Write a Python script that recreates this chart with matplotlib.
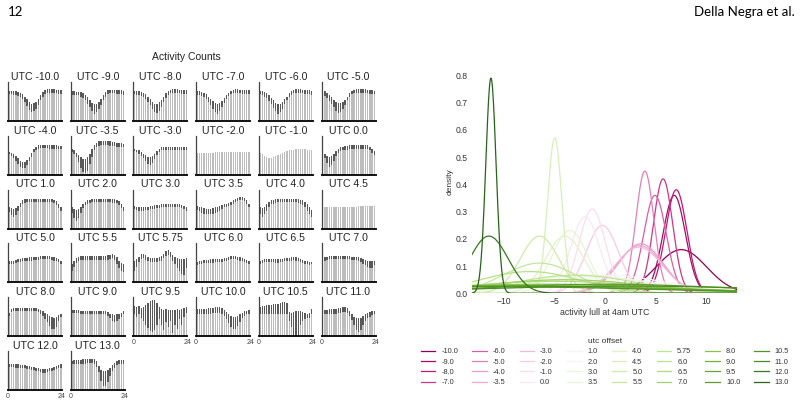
import numpy as np
import matplotlib
matplotlib.use("Agg")
import matplotlib.pyplot as plt

plt.rcParams['font.family'] = ['Liberation Sans', 'DejaVu Sans']

# utc offsets (panel order and legend order)
offsets = [-10.0, -9.0, -8.0, -7.0, -6.0, -5.0, -4.0, -3.5, -3.0, -2.0, -1.0, 0.0,
           1.0, 2.0, 3.0, 3.5, 4.0, 4.5, 5.0, 5.5, 5.75, 6.0, 6.5, 7.0,
           8.0, 9.0, 9.5, 10.0, 10.5, 11.0, 12.0, 13.0]
offset_labels = ['5.75' if o == 5.75 else f'{o:.1f}' for o in offsets]

# hourly activity, top of bar and bottom of dark range (share of panel height, %)
act_hi = [
    [76,76,75,75,74,72,68,62,55,48,44,45,48,55,65,74,78,80,80,80,80,79,79,78],
    [75,75,74,74,73,70,66,60,52,46,42,44,48,56,66,74,78,79,79,79,79,78,78,77],
    [76,75,75,74,72,68,62,55,48,44,44,48,54,62,70,76,79,80,80,80,79,79,78,78],
    [75,75,74,72,68,62,56,50,45,43,45,50,58,66,72,77,79,80,80,79,79,79,78,78],
    [76,75,73,70,65,58,52,46,43,44,48,55,62,70,75,78,80,80,80,79,79,78,78,77],
    [82,76,72,66,60,54,48,45,45,48,54,62,70,76,79,80,81,81,80,80,79,79,78,77],
    [58,56,52,48,42,36,32,33,38,46,56,66,72,75,76,76,76,76,75,75,75,75,74,74],
    [66,62,56,50,44,40,40,44,54,66,76,82,85,87,87,87,86,85,84,83,82,81,80,79],
    [66,64,62,58,54,50,46,45,48,54,60,66,70,72,72,72,72,72,72,71,71,71,70,70],
    [56,56,56,56,56,56,56,56,57,57,57,57,57,57,57,57,58,58,58,58,58,58,57,57],
    [56,52,48,44,42,43,45,48,51,54,56,58,60,62,63,64,65,66,66,65,65,64,63,62],
    [56,52,48,46,48,54,60,66,70,72,73,74,75,75,75,76,76,76,76,76,75,72,66,60],
    [54,52,50,52,58,66,72,75,76,76,76,76,76,76,76,76,76,76,76,76,74,70,64,56],
    [54,50,48,50,56,62,68,72,74,75,76,76,76,76,76,76,76,76,75,75,74,70,64,56],
    [58,56,54,54,54,55,56,57,58,59,60,61,62,62,62,63,64,64,64,63,62,61,58,54],
    [58,56,54,52,50,50,50,52,54,56,58,60,62,64,66,68,72,76,78,80,80,78,72,64],
    [54,52,56,62,68,72,74,75,76,76,76,76,76,76,76,76,76,75,74,72,68,62,54,48],
    [54,54,54,54,54,54,54,55,55,55,55,55,56,56,56,56,57,57,57,57,57,57,57,57],
    [54,54,56,58,60,61,62,63,63,64,64,65,66,66,67,68,68,68,67,66,64,62,60,56],
    [48,56,62,66,68,68,68,68,68,68,68,68,68,68,68,68,69,70,72,70,64,56,50,48],
    [56,60,66,72,73,70,66,62,62,62,62,64,68,74,80,84,78,70,66,62,60,60,60,62],
    [52,54,56,57,58,58,59,59,60,60,60,61,62,63,65,67,68,68,66,64,62,60,57,54],
    [56,57,60,61,61,60,60,59,59,60,61,62,62,63,64,65,64,62,60,58,56,55,53,52],
    [58,64,66,67,67,67,67,67,67,67,67,67,67,66,66,65,64,62,60,58,56,54,54,56],
    [60,70,72,73,73,73,73,73,73,73,73,72,72,70,68,64,60,56,52,50,48,50,54,58],
    [68,68,67,67,66,66,65,65,64,64,64,64,65,66,66,64,62,58,56,55,56,58,60,64],
    [78,76,78,72,74,80,86,90,94,92,86,76,70,68,70,68,68,68,68,70,68,70,72,74],
    [70,70,70,70,71,72,72,73,74,75,74,72,68,62,56,52,50,50,52,56,60,64,66,68],
    [76,77,78,79,80,81,82,83,84,86,88,88,86,62,60,62,64,64,64,62,60,58,60,70],
    [68,68,68,69,69,70,70,72,73,74,74,72,66,58,50,46,46,48,52,56,60,62,64,66],
    [68,68,67,66,66,65,65,64,63,62,60,59,58,56,55,54,54,55,56,58,60,62,64,66],
    [76,77,77,78,78,79,79,80,81,81,80,74,62,52,48,48,52,58,64,70,74,77,78,78],
]
act_lo = [
    [68,68,67,66,64,60,55,48,38,28,22,24,30,40,52,62,68,70,70,70,70,70,69,68],
    [67,67,66,65,62,58,52,44,34,24,18,22,30,40,52,62,68,70,70,70,69,69,68,67],
    [68,67,66,64,60,55,48,40,30,22,20,26,36,48,58,66,70,70,70,70,70,69,68,68],
    [67,66,64,60,55,48,40,30,22,18,24,34,46,56,64,68,70,70,70,70,69,69,68,68],
    [68,66,62,58,50,42,32,24,18,22,30,42,52,62,66,70,70,70,70,70,69,68,68,67],
    [70,64,58,50,42,34,26,20,22,30,40,52,62,68,70,71,71,71,70,70,70,69,68,68],
    [52,48,42,34,26,20,16,18,24,34,46,58,64,66,67,67,67,67,66,66,66,66,65,65],
    [58,52,44,32,18,6,4,10,26,46,62,70,74,76,76,76,75,74,74,73,72,71,70,70],
    [60,58,54,48,42,36,28,24,30,40,50,58,62,64,64,64,64,64,64,63,63,63,62,62],
    [56,56,56,56,56,56,56,56,57,57,57,57,57,57,57,57,58,58,58,58,58,58,57,57],
    [56,52,48,44,42,43,45,48,51,54,56,58,60,62,63,64,65,66,66,65,65,64,63,62],
    [50,42,30,20,24,36,48,56,60,62,63,64,65,65,65,66,66,66,66,66,65,62,56,50],
    [42,34,30,34,44,56,64,66,67,67,67,67,67,67,67,67,67,67,67,67,65,60,52,44],
    [40,26,18,26,40,52,60,64,66,67,67,67,67,67,67,67,67,67,66,66,65,60,52,44],
    [50,48,46,46,46,47,48,49,50,51,52,53,54,54,54,55,56,56,56,55,54,53,50,46],
    [48,44,40,38,36,36,36,38,40,42,46,50,54,56,58,60,64,68,70,72,72,70,62,54],
    [38,30,36,46,56,62,64,66,67,67,67,67,67,67,67,67,67,66,64,60,54,46,36,30],
    [54,54,54,54,54,54,54,55,55,55,55,55,56,56,56,56,57,57,57,57,57,57,57,57],
    [46,46,48,50,52,53,54,55,55,56,56,57,58,58,59,60,60,60,59,58,56,54,52,48],
    [28,40,50,56,58,58,58,58,58,58,58,58,58,58,58,58,58,60,62,58,48,36,28,26],
    [30,40,52,60,62,58,54,52,52,52,52,54,56,62,68,70,64,54,46,38,28,22,20,36],
    [44,46,48,49,50,50,51,51,52,52,52,53,54,55,57,59,60,60,58,56,54,52,49,46],
    [48,50,52,53,53,52,52,51,51,52,53,54,54,55,56,57,56,54,52,50,48,46,44,46],
    [50,56,58,59,59,59,59,59,59,59,59,59,59,58,58,57,55,52,48,44,40,36,36,44],
    [52,62,64,65,65,65,65,65,65,65,65,64,64,62,58,52,44,36,26,20,18,24,38,50],
    [60,60,59,59,58,58,57,57,56,56,56,56,57,58,58,56,52,46,40,36,38,44,50,56],
    [56,50,56,46,40,30,22,14,10,16,28,44,30,16,36,24,40,8,30,20,44,28,50,60],
    [56,56,56,56,57,58,58,59,60,61,60,58,52,44,34,24,20,20,26,36,46,52,56,58],
    [56,56,56,56,56,56,56,56,56,56,56,56,56,40,24,4,2,4,28,40,44,46,48,56],
    [56,56,56,57,57,58,58,60,61,62,62,60,52,42,28,16,12,16,28,38,46,50,54,56],
    [60,60,59,58,58,57,57,56,55,54,52,51,50,48,46,44,44,46,48,50,52,54,56,58],
    [66,67,67,68,68,68,68,70,70,70,68,60,46,24,12,10,22,36,48,58,64,66,68,68],
]

# activity lull distribution per offset (centre, spread)
lull_mean = [7.5, 6.8, 7.0, 5.7, 4.9, 3.9, 3.5, 3.4, 3.3, -0.3, -1.3, -2.0,
             0.0, -1.0, -2.0, -3.5, -4.0, -5.0, -6.5, -6.5, -3.0, -7.5, -5.0, -4.0,
             -6.0, -8.0, -10.0, 0.0, -12.0, 2.0, -11.5, -11.3]
lull_sd = [2.49, 1.11, 1.05, 0.95, 1.11, 0.89, 2.2, 2.28, 2.35, 1.6, 1.29, 1.42,
           6.0, 7.0, 6.0, 1.73, 1.9, 0.70, 1.9, 3.6, 6.0, 5.0, 9.0, 8.0,
           12.0, 14.0, 15.0, 12.0, 16.0, 15.0, 1.9, 0.505]

W, H = 800, 405
fig = plt.figure(figsize=(W / 100, H / 100), dpi=100)


def px_axes(x0, y_top, w, h):
    return fig.add_axes([x0 / W, (H - y_top - h) / H, w / W, h / H])


# page header
fig.text(8 / W, 1 - 12 / H, '12', fontsize=9.5, family='Lato', va='center', ha='left')
fig.text(795 / W, 1 - 12 / H, 'Della Negra et al.', fontsize=9.5, family='Lato',
         va='center', ha='right')

# left: small multiples
fig.text(186 / W, 1 - 57 / H, 'Activity Counts', fontsize=7.5, ha='center', va='center',
         color='#222222')
hours = np.arange(24) + 0.5
for i, off in enumerate(offsets):
    r, c = divmod(i, 6)
    ax = px_axes(8 + 62.7 * c, 81.7 + 53.9 * r, 54, 39)
    hi = np.array(act_hi[i]) / 100
    lo = np.array(act_lo[i]) / 100
    ax.bar(hours, hi, width=0.6, color='#bdbdbd', linewidth=0)
    ax.bar(hours, hi - lo, bottom=lo, width=0.6, color='#595959', linewidth=0)
    ax.set_xlim(0, 24)
    ax.set_ylim(0, 1)
    ax.set_yticks([])
    for s in ['top', 'right']:
        ax.spines[s].set_visible(False)
    ax.spines['left'].set_color('#444444')
    ax.spines['left'].set_linewidth(0.9)
    ax.spines['bottom'].set_color('#111111')
    ax.spines['bottom'].set_linewidth(1.4)
    ax.set_title(f'UTC {offset_labels[i]}', fontsize=7.6, pad=1.5, color='#222222')
    bottom_row = (r == 5) or (r == 4 and c >= 2)
    if bottom_row:
        ax.set_xticks([0, 24])
        ax.set_xticklabels(['0', '24'], fontsize=5, color='#444444')
        ax.tick_params(axis='x', length=0, pad=2)
    else:
        ax.set_xticks([])

# right: lull densities, coloured on a continuous PiYG scale over the offsets
cmap = matplotlib.colormaps['PiYG']
norm = matplotlib.colors.Normalize(min(offsets), max(offsets))
ax2 = px_axes(471.7, 70, 265.3, 223.3)
xs = np.linspace(-13.2, 13.0, 600)
for i, off in enumerate(offsets):
    m, s = lull_mean[i], lull_sd[i]
    dens = np.exp(-0.5 * ((xs - m) / s) ** 2) / (s * np.sqrt(2 * np.pi))
    ax2.plot(xs, dens, color=cmap(norm(off)), lw=0.9, label=offset_labels[i])
ax2.set_xlim(-13.2, 13.0)
ax2.set_ylim(0, 0.8195)
ax2.set_yticks(np.arange(0, 0.81, 0.1))
ax2.set_yticklabels([f'{v:.1f}' for v in np.arange(0, 0.81, 0.1)])
ax2.set_xticks([-10, -5, 0, 5, 10])
ax2.tick_params(labelsize=6.2, length=0, colors='#333333', pad=3)
for s in ax2.spines.values():
    s.set_visible(False)
ax2.set_ylabel('density', fontsize=6, color='#333333', labelpad=1)
ax2.set_xlabel('activity lull at 4am UTC', fontsize=6.3, color='#333333', labelpad=1)

leg = fig.legend(*ax2.get_legend_handles_labels(), loc='upper center',
                 bbox_to_anchor=(605 / W, 1 - 331 / H), ncol=8, frameon=False,
                 fontsize=5.3, title='utc offset', title_fontsize=6,
                 handlelength=2.0, handletextpad=0.8, columnspacing=1.9,
                 labelspacing=0.45)
for t in leg.get_texts():
    t.set_color('#333333')
leg.get_title().set_color('#333333')

fig.savefig('out.png', dpi=100)
